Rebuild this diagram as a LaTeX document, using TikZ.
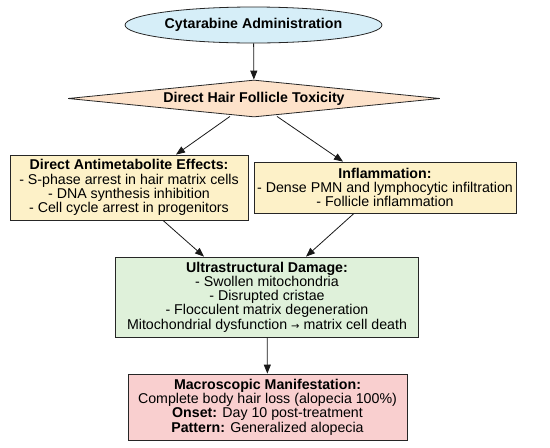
\documentclass[tikz,border=0pt]{standalone}
\usepackage{fontspec}
\setmainfont{Liberation Sans}
\newfontfamily\symfont{DejaVu Sans}
\usetikzlibrary{shapes.geometric,arrows.meta}
\definecolor{cblue}{HTML}{D6EEF8}
\definecolor{cpeach}{HTML}{FDE2CA}
\definecolor{cyellow}{HTML}{FDF1C8}
\definecolor{cgreen}{HTML}{DFF1DA}
\definecolor{cpink}{HTML}{F9CFCF}
\begin{document}
\begin{tikzpicture}[x=1pt,y=-1pt,
  base/.style={draw=black!85, line width=0.8pt, font=\fontsize{14.2}{14.3}\selectfont, align=center, inner sep=0pt},
  boxnode/.style={base, rectangle},
  conn/.style={-{Triangle[length=9pt,width=7pt]}, line width=0.8pt, black!90}]
\useasboundingbox (0,0) rectangle (550,448);
\node[base, ellipse, fill=cblue, minimum width=257pt, minimum height=36pt] (admin) at (253.5,25) {\textbf{Cytarabine Administration}};
\node[base, diamond, aspect=10, fill=cpeach, minimum width=372pt, minimum height=37pt] (tox) at (254,98.5) {\textbf{Direct Hair Follicle Toxicity}};
\node[boxnode, fill=cyellow, minimum width=238pt, minimum height=65pt] (anti) at (129,187.5) {\textbf{Direct Antimetabolite Effects:}\\- S-phase arrest in hair matrix cells\\- DNA synthesis inhibition\\- Cell cycle arrest in progenitors};
\node[boxnode, fill=cyellow, minimum width=262pt, minimum height=51pt] (infl) at (385,187.5) {\textbf{Inflammation:}\\- Dense PMN and lymphocytic infiltration\\- Follicle inflammation};
\node[boxnode, fill=cgreen, minimum width=303pt, minimum height=80pt] (ultra) at (267,297) {\textbf{Ultrastructural Damage:}\\- Swollen mitochondria\\- Disrupted cristae\\- Flocculent matrix degeneration\\Mitochondrial dysfunction {\symfont\fontsize{10}{10}\selectfont →} matrix cell death};
\node[boxnode, fill=cpink, minimum width=279pt, minimum height=66pt] (macro) at (267.5,407) {\textbf{Macroscopic Manifestation:}\\Complete body hair loss (alopecia 100\%)\\\textbf{Onset:} Day 10 post-treatment\\\textbf{Pattern:} Generalized alopecia};
\draw[conn] (admin) -- (tox);
\draw[conn] (tox.south) ++(-24,-1) coordinate (t1) (t1) -- (anti.north -| 176,0);
\draw[conn] (tox.south) ++(23,-1) coordinate (t2) (t2) -- (infl.north -| 343,0);
\draw[conn] (anti.south -| 163,0) -- (ultra.north -| 204,0);
\draw[conn] (infl.south -| 354,0) -- (ultra.north -| 306,0);
\draw[conn] (ultra) -- (macro);
\end{tikzpicture}
\end{document}
